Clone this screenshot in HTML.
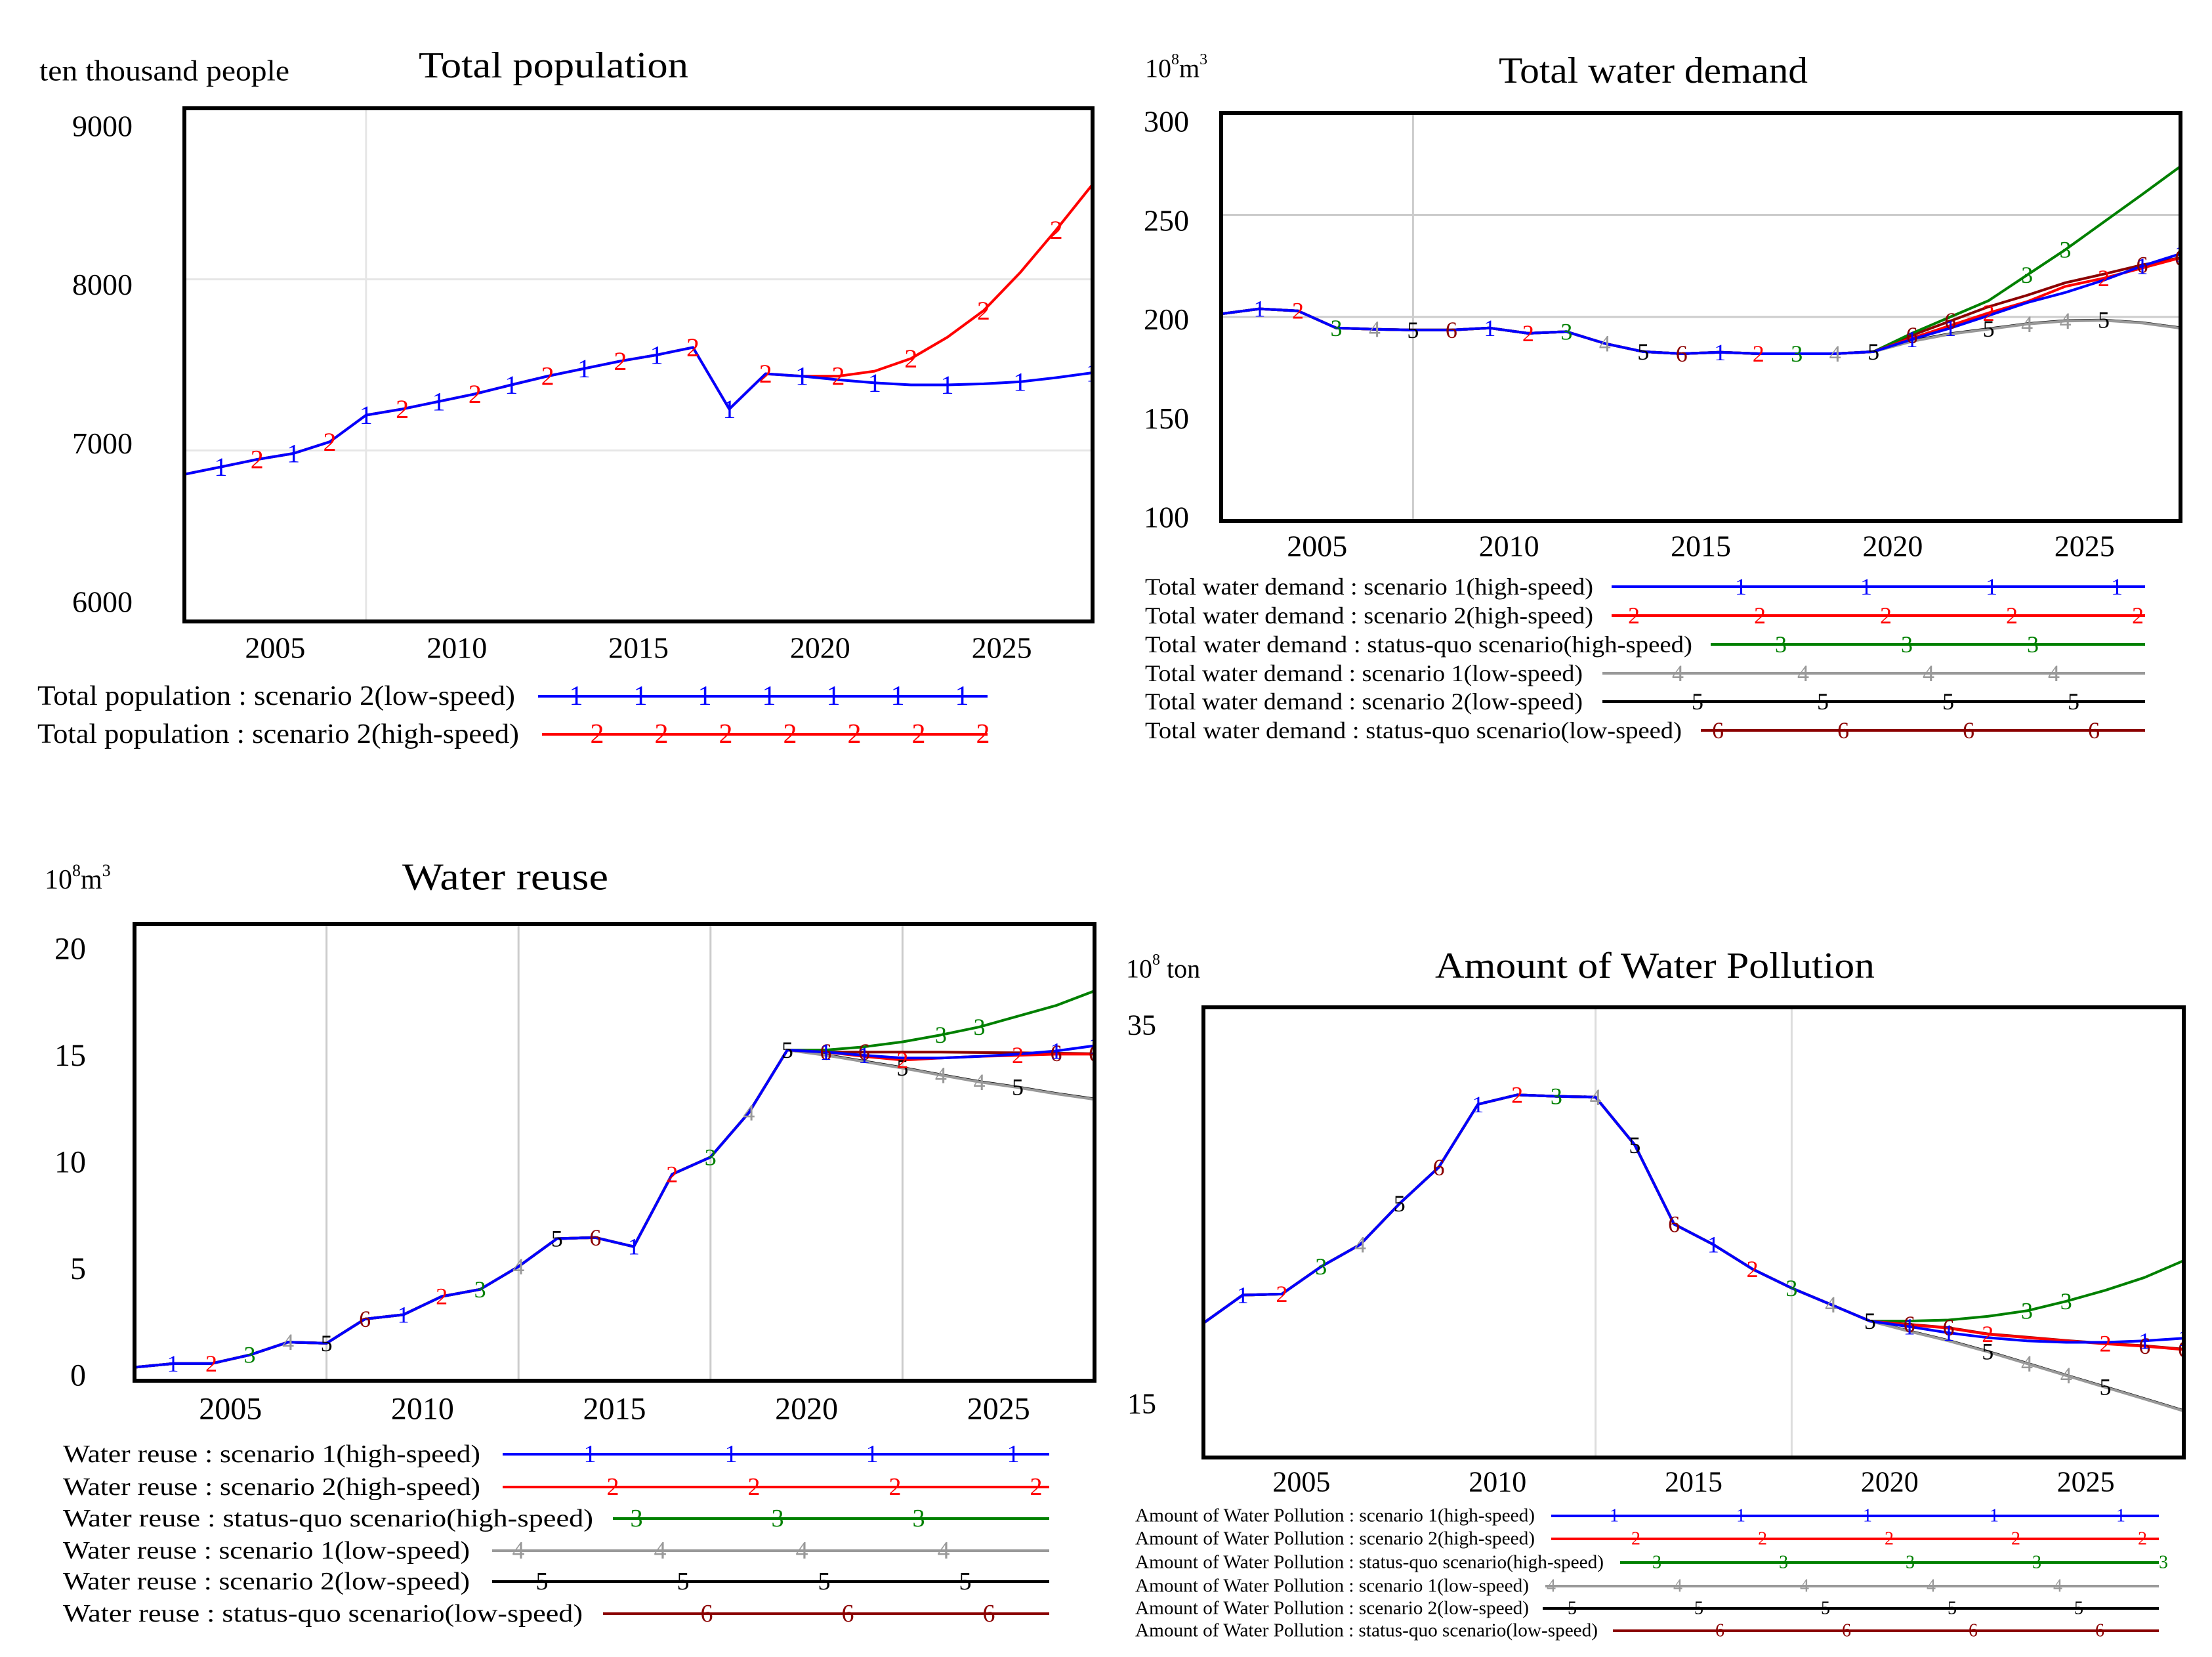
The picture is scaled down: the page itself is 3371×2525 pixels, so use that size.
<!DOCTYPE html>
<html><head><meta charset="utf-8"><style>
html,body{margin:0;padding:0;background:#fff;}
svg{display:block;font-family:"Liberation Serif",serif;}
</style></head><body>
<svg id="root" width="3371" height="2525" viewBox="0 0 3371 2525" xmlns="http://www.w3.org/2000/svg"></svg>
<script>
// ---------- data ----------
const years = [2002.5,2003.5,2004.5,2005.5,2006.5,2007.5,2008.5,2009.5,2010.5,2011.5,2012.5,2013.5,2014.5,2015.5,2016.5,2017.5,2018.5,2019.5,2020.5,2021.5,2022.5,2023.5,2024.5,2025.5,2026.5,2027.5];
const xTickYears = [2005,2010,2015,2020,2025];

const popLow = [6860,6903,6947,6982,7050,7206,7242,7286,7330,7383,7434,7478,7522,7558,7602,7242,7448,7434,7413,7395,7383,7383,7389,7401,7425,7454];
const popHighFuture = [7434,7463,7537,7661,7817,8038,8289,8555];
const popTicks = [6000,7000,8000,9000];

const demandHist = [201.5,204,203,194.6,194,193.6,193.6,194.6,192,192.8,187,183,182,182.7,182,182,182,183];
const demandS1High = [189,194.5,200.7,207,212,218,225,231];
const demandS2High = [189.6,195.8,202,207.5,215,219,224,229];
const demandSQHigh = [192,200,208,220.5,233,246.5,260,273.8];
const demandS1Low = [188,191.6,194,196.5,198,198.3,197,194.5];
const demandS2Low = [188.3,191.8,194.2,196.7,198.2,198.5,197.2,194.7];
const demandSQLow = [191,198,205,210.6,216.8,221,225.5,229];
const demandTicks = [100,150,200,250,300];

const reuseHist = [0.59,0.75,0.75,1.13,1.69,1.64,2.7,2.89,3.69,4.0,5.0,6.22,6.27,5.87,9.04,9.79,11.74,14.48];
const reuseS1High = [14.39,14.25,14.13,14.13,14.2,14.3,14.44,14.67];
const reuseS2High = [14.39,14.2,14.04,14.13,14.2,14.25,14.3,14.3];
const reuseSQHigh = [14.48,14.62,14.84,15.14,15.49,15.96,16.43,17.07];
const reuseS1Low = [14.25,13.97,13.69,13.38,13.08,12.84,12.56,12.32];
const reuseS2Low = [14.27,13.99,13.71,13.4,13.1,12.86,12.58,12.34];
const reuseSQLow = [14.39,14.39,14.39,14.39,14.37,14.36,14.34,14.32];
const reuseTicks = [0,5,10,15,20];

const pollHist = [19.7,21.06,21.11,22.44,23.51,25.49,27.25,30.3,30.76,30.69,30.65,28.33,24.5,23.51,22.32,21.4,20.6,19.8];
const pollS1High = [19.53,19.23,19.0,18.84,18.77,18.77,18.84,18.97];
const pollS2High = [19.62,19.46,19.16,19.0,18.84,18.7,18.58,18.42];
const pollSQHigh = [19.8,19.85,20.03,20.3,20.76,21.29,21.91,22.73];
const pollS1Low = [19.3,18.84,18.31,17.74,17.16,16.59,16.02,15.44];
const pollS2Low = [19.32,18.86,18.33,17.76,17.18,16.61,16.04,15.46];
const pollSQLow = [19.64,19.48,19.18,19.02,18.86,18.72,18.6,18.44];
const pollTicks = [15,35];

// ---------- helpers ----------
const NS = "http://www.w3.org/2000/svg";
const root = document.getElementById('root');
function mk(tag, attrs, parent){
  const e = document.createElementNS(NS, tag);
  for (const k in attrs) e.setAttribute(k, attrs[k]);
  (parent||root).appendChild(e);
  return e;
}
function lin(d0,d1,r0,r1){ return v => r0 + (v-d0)*(r1-r0)/(d1-d0); }
const COLORS = ['#0000ff','#ff0000','#008000','#999999','#000000','#8b0000'];

function drawChart(cfg){
  const g = mk('g', {});
  
  
  const xs = lin(2002.5, 2027.5, cfg.box[0], cfg.box[1]);
  const ys = lin(cfg.yMin, cfg.yMax, cfg.box[3], cfg.box[2]);
  const yl = lin(cfg.yMin, cfg.yMax, cfg.lab[1], cfg.lab[0]);
  const clip = mk('clipPath', {id: cfg.name+'-clip'}, g);
  mk('rect', {x:cfg.box[0], y:cfg.box[2], width:cfg.box[1]-cfg.box[0], height:cfg.box[3]-cfg.box[2]}, clip);
  cfg.gridY.forEach(v => {
    const l = mk('line', {x1:cfg.box[0], x2:cfg.box[1], y1:ys(v), y2:ys(v), stroke:cfg.gridColor, 'stroke-width':3}, g);
    
    
  });
  cfg.gridX.forEach(v => {
    const l = mk('line', {x1:xs(v), x2:xs(v), y1:cfg.box[2], y2:cfg.box[3], stroke:cfg.gridColor, 'stroke-width':3}, g);
    
    
  });
  const order = cfg.series.map((s,i)=>i).reverse();
  const sg = mk('g', {'clip-path':'url(#'+cfg.name+'-clip)'}, g);
  order.forEach(i => {
    const s = cfg.series[i];
    const pts = s.vals.map((v,j)=> xs(years[j]).toFixed(1)+','+ys(v).toFixed(1)).join(' ');
    const p = mk('polyline', {points:pts, fill:'none', stroke:s.color, 'stroke-width':4, 'stroke-linejoin':'round'}, sg);
    
    
  });
  const n = cfg.series.length;
  order.forEach(i => {
    const s = cfg.series[i];
    s.vals.forEach((v,j) => {
      if (j === 0) return;
      if ((j - 1) % n !== i % n && !(j >= 18 && (j - 18) % 2 === i % 2 && n > 2 && (j+i)%3===0)) return;
      const t = mk('text', {x:xs(years[j]), y:ys(v), fill:s.color, 'font-size':cfg.markSize, 'text-anchor':'middle', 'dominant-baseline':'central'}, sg);
      t.textContent = s.digit;
      
      
    });
  });
  const b = mk('rect', {x:cfg.box[0], y:cfg.box[2], width:cfg.box[1]-cfg.box[0], height:cfg.box[3]-cfg.box[2], fill:'none', stroke:'#000', 'stroke-width':6}, g);
  
  
  cfg.yTicks.forEach(v => {
    const t = mk('text', {x:cfg.labRight, y:yl(v), 'font-size':cfg.tickSize, 'text-anchor':'end', 'dominant-baseline':'central'}, g);
    t.textContent = v;
    
    
  });
  xTickYears.forEach(v => {
    const t = mk('text', {x:xs(v), y:cfg.xLabY, 'font-size':cfg.tickSize, 'text-anchor':'middle', 'dominant-baseline':'central'}, g);
    t.textContent = v;
    
    
  });
  const ti = mk('text', {x:cfg.title[1], y:cfg.title[2], 'font-size':cfg.title[3], textLength:cfg.title[4], lengthAdjust:'spacingAndGlyphs', 'dominant-baseline':'central'}, g);
  ti.textContent = cfg.title[0];
  
  
  const ua = {x:cfg.unit[1], y:cfg.unit[2], 'font-size':cfg.unit[3], 'dominant-baseline':'central'};
  if (cfg.unit[4]) { ua.textLength = cfg.unit[4]; ua.lengthAdjust = 'spacingAndGlyphs'; }
  const un = mk('text', ua, g);
  un.innerHTML = cfg.unit[0];
  
  
  cfg.legend.rows.forEach((r, i) => {
    const s = cfg.series[i];
    const lg = mk('g', {}, g);
    
    
    const tx = mk('text', {x:cfg.legend.x, y:r[0], 'font-size':cfg.legend.size, textLength:r[1], lengthAdjust:'spacingAndGlyphs', 'dominant-baseline':'central'}, lg);
    tx.textContent = s.label;
    mk('line', {x1:r[2], x2:cfg.legend.end, y1:r[0], y2:r[0], stroke:s.color, 'stroke-width':4}, lg);
    for (let k=0;k<r[5];k++){
      const d = mk('text', {x:r[3]+k*r[4], y:r[0], fill:s.color, 'font-size':cfg.legend.size, 'text-anchor':'middle', 'dominant-baseline':'central'}, lg);
      d.textContent = s.digit;
    }
  });
}
function join(h, f){ return h.concat(f); }

drawChart({
  name:'total-population-chart', box:[281,1665,165,947], yMin:6000, yMax:9000, lab:[192,917], labRight:202,
  gridY:[7000,8000], gridX:[2007.5], gridColor:'#e6e6e6', yTicks:popTicks, tickSize:46, xLabY:987, markSize:40,
  title:['Total population',638,100,56,411], unit:['ten thousand people',60,108,44,381],
  series:[
    {vals:popLow, color:'#0000ff', digit:'1', label:'Total population : scenario 2(low-speed)'},
    {vals:join(popLow.slice(0,18), popHighFuture), color:'#ff0000', digit:'2', label:'Total population : scenario 2(high-speed)'}
  ],
  legend:{x:57, size:42, end:1505, rows:[[1061,728,820,878,98,7],[1119,734,826,910,98,7]]}
});

drawChart({
  name:'total-water-demand-chart', box:[1861,3323,172,794], yMin:100, yMax:300, lab:[185,788], labRight:1812,
  gridY:[200,250], gridX:[2007.5], gridColor:'#cccccc', yTicks:demandTicks, tickSize:46, xLabY:832, markSize:36,
  title:['Total water demand',2284,108,56,471], unit:['10<tspan baseline-shift="super" font-size="24">8</tspan>m<tspan baseline-shift="super" font-size="24">3</tspan>',1745,104,40],
  series:[
    {vals:join(demandHist, demandS1High), color:COLORS[0], digit:'1', label:'Total water demand : scenario 1(high-speed)'},
    {vals:join(demandHist, demandS2High), color:COLORS[1], digit:'2', label:'Total water demand : scenario 2(high-speed)'},
    {vals:join(demandHist, demandSQHigh), color:COLORS[2], digit:'3', label:'Total water demand : status-quo scenario(high-speed)'},
    {vals:join(demandHist, demandS1Low), color:COLORS[3], digit:'4', label:'Total water demand : scenario 1(low-speed)'},
    {vals:join(demandHist, demandS2Low), color:COLORS[4], digit:'5', label:'Total water demand : scenario 2(low-speed)'},
    {vals:join(demandHist, demandSQLow), color:COLORS[5], digit:'6', label:'Total water demand : status-quo scenario(low-speed)'}
  ],
  legend:{x:1745, size:36, end:3269, rows:[[894,683,2456,2653,191,4],[938,683,2456,2490,192,5],[982,834,2607,2714,192,3],[1026,667,2442,2557,191,4],[1069,667,2442,2587,191,4],[1113,818,2592,2618,191,4]]}
});

drawChart({
  name:'water-reuse-chart', box:[205,1668,1408,2104], yMin:0, yMax:20, lab:[1446,2096], labRight:131,
  gridY:[], gridX:[2007.5,2012.5,2017.5,2022.5], gridColor:'#cccccc', yTicks:reuseTicks, tickSize:48, xLabY:2147, markSize:36,
  title:['Water reuse',613,1336,58,314], unit:['10<tspan baseline-shift="super" font-size="26">8</tspan>m<tspan baseline-shift="super" font-size="26">3</tspan>',68,1341,42],
  series:[
    {vals:join(reuseHist, reuseS1High), color:COLORS[0], digit:'1', label:'Water reuse : scenario 1(high-speed)'},
    {vals:join(reuseHist, reuseS2High), color:COLORS[1], digit:'2', label:'Water reuse : scenario 2(high-speed)'},
    {vals:join(reuseHist, reuseSQHigh), color:COLORS[2], digit:'3', label:'Water reuse : status-quo scenario(high-speed)'},
    {vals:join(reuseHist, reuseS1Low), color:COLORS[3], digit:'4', label:'Water reuse : scenario 1(low-speed)'},
    {vals:join(reuseHist, reuseS2Low), color:COLORS[4], digit:'5', label:'Water reuse : scenario 2(low-speed)'},
    {vals:join(reuseHist, reuseSQLow), color:COLORS[5], digit:'6', label:'Water reuse : status-quo scenario(low-speed)'}
  ],
  legend:{x:96, size:38, end:1599, rows:[[2216,636,766,899,215,4],[2266,636,766,934,215,4],[2314,808,934,970,215,3],[2363,620,750,790,216,4],[2410,620,750,826,215,4],[2459,792,919,1077,215,3]]}
});

drawChart({
  name:'water-pollution-chart', box:[1834,3328,1535,2221], yMin:13.19, yMax:35, lab:[1562,2191], labRight:1762,
  gridY:[], gridX:[2012.5,2017.5], gridColor:'#dddddd', yTicks:pollTicks, tickSize:44, xLabY:2258, markSize:36,
  title:['Amount of Water Pollution',2187,1472,56,670], unit:['10<tspan baseline-shift="super" font-size="24">8</tspan> ton',1716,1476,40],
  series:[
    {vals:join(pollHist, pollS1High), color:COLORS[0], digit:'1', label:'Amount of Water Pollution : scenario 1(high-speed)'},
    {vals:join(pollHist, pollS2High), color:COLORS[1], digit:'2', label:'Amount of Water Pollution : scenario 2(high-speed)'},
    {vals:join(pollHist, pollSQHigh), color:COLORS[2], digit:'3', label:'Amount of Water Pollution : status-quo scenario(high-speed)'},
    {vals:join(pollHist, pollS1Low), color:COLORS[3], digit:'4', label:'Amount of Water Pollution : scenario 1(low-speed)'},
    {vals:join(pollHist, pollS2Low), color:COLORS[4], digit:'5', label:'Amount of Water Pollution : scenario 2(low-speed)'},
    {vals:join(pollHist, pollSQLow), color:COLORS[5], digit:'6', label:'Amount of Water Pollution : status-quo scenario(low-speed)'}
  ],
  legend:{x:1730, size:28, end:3290, rows:[[2310,609,2364,2460,193,5],[2345,609,2364,2493,193,5],[2381,714,2469,2525,193,5],[2417,600,2355,2364,193,5],[2451,600,2351,2396,193,5],[2485,705,2458,2621,193,4]]}
});
</script>
</body></html>
